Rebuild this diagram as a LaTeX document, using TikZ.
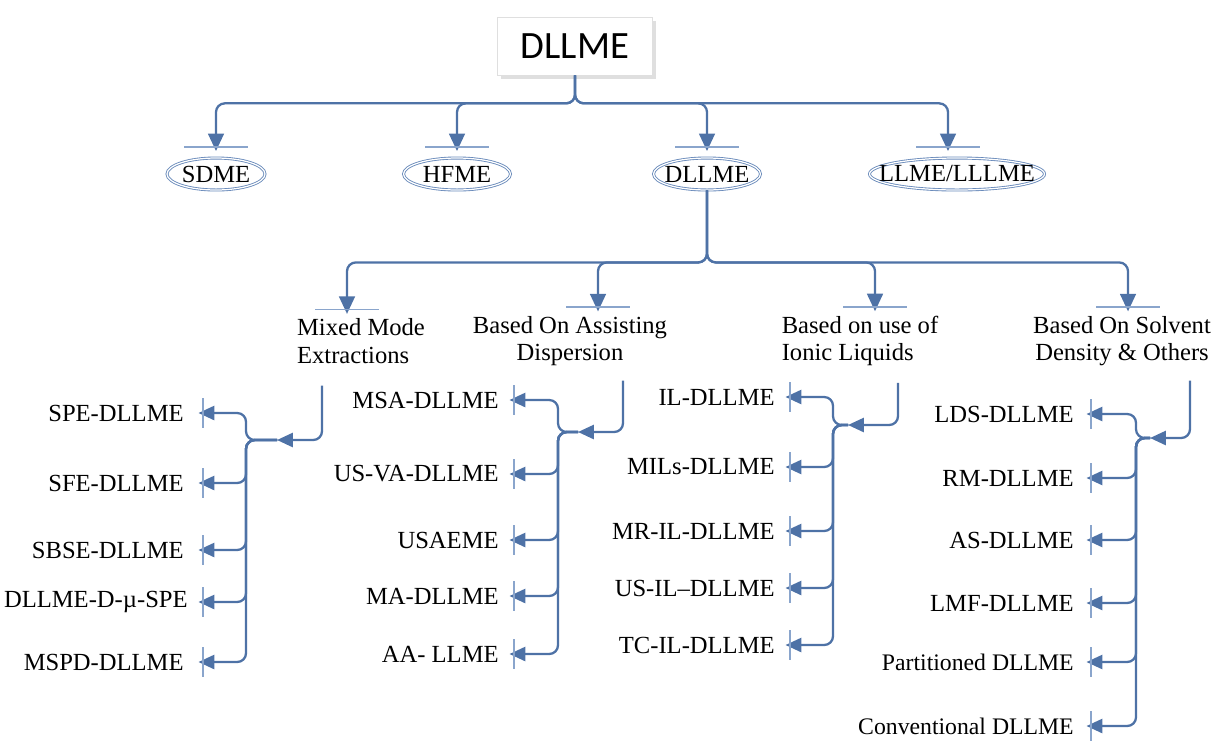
\documentclass[tikz,border=0pt]{standalone}
\usepackage{fontspec}
\setmainfont{Liberation Serif}
\newfontfamily\titlefont{Carlito}
\usetikzlibrary{positioning}
\usetikzlibrary{shapes,arrows.meta,shadows}
\definecolor{linkblue}{HTML}{4E72A6}
\definecolor{barblue}{HTML}{8AA5CC}
\definecolor{ovalblue}{HTML}{6A8BBB}

\begin{document}
\begin{tikzpicture}[x=0.02cm,y=-0.02cm,
					topbox/.style={rectangle,
									draw=gray!25,fill=white,
									minimum width=3.1cm,minimum height=1.16cm,
									font=\titlefont\fontsize{22}{24}\selectfont,
									drop shadow={shadow xshift=2pt,shadow yshift=-2pt,opacity=0.25}
									},
					oval/.style={ellipse,
									draw=ovalblue,line width=0.5pt,
									double=white,double distance=0.7pt,
									inner sep=0mm,minimum height=0.64cm
									},
					ovaltext/.style={font=\fontsize{14}{16}\selectfont},
					catnode/.style={inner sep=0mm,font=\fontsize{14}{15.5}\selectfont},
					leafnode/.style={anchor=east,inner sep=0mm,font=\fontsize{14}{16}\selectfont},
					link/.style={draw=linkblue,line width=1.3pt,rounded corners=5pt},
					downtip/.style={-{Triangle[length=10pt,width=9pt,sep=-3pt] Bar[width=36pt,line width=1pt,color=barblue]}},
					lefttip/.style={-{Triangle[length=9pt,width=8pt,sep=-3pt] Bar[width=17pt,line width=1pt,color=barblue]}},
					jointip/.style={-{Triangle[length=9pt,width=8pt]}}
                     ]
\useasboundingbox (0,0) rectangle (1222,741);

% top
\node[topbox] (title) at (575,46) {DLLME};
\node[oval,minimum width=1.96cm,label={[ovaltext]center:SDME}] (sdme) at (216,174) {};
\node[oval,minimum width=2.14cm,label={[ovaltext]center:HFME}] (hfme) at (457,174) {};
\node[oval,minimum width=2.14cm,label={[ovaltext]center:DLLME}] (dllme) at (707,174) {};
\node[oval,minimum width=3.5cm,label={[ovaltext]center:LLME/LLLME}] (llme) at (957,174) {};

\draw[link,downtip] (title.south) -- ++(0,28) -| ([yshift=0.2cm]sdme.north);
\draw[link,downtip] (title.south) -- ++(0,28) -| ([yshift=0.2cm]hfme.north);
\draw[link,downtip] (title.south) -- ++(0,28) -| ([yshift=0.2cm]dllme.north);
\draw[link,downtip] (title.south) -- ++(0,28) -| ([yshift=0.2cm,xshift=-0.18cm]llme.north);

% categories
\node[catnode,align=left] (mix) at (361,341) {Mixed Mode\\Extractions};
\node[catnode,align=center] (assist) at (570,341) {Based On Assisting\\Dispersion};
\node[catnode,align=left] (ionic) at (860,341) {Based on use of\\Ionic Liquids};
\node[catnode,align=center] (solvent) at (1122,341) {Based On Solvent\\Density \& Others};

\draw[link,downtip] (dllme.south) -- ++(0,72) -| ([xshift=-0.28cm,yshift=0.16cm]mix.north);
\draw[link,downtip] (dllme.south) -- ++(0,72) -| ([xshift=0.56cm,yshift=0.16cm]assist.north);
\draw[link,downtip] (dllme.south) -- ++(0,72) -| ([xshift=0.3cm,yshift=0.16cm]ionic.north);
\draw[link,downtip] (dllme.south) -- ++(0,72) -| ([xshift=0.12cm,yshift=0.16cm]solvent.north);

% junctions
\coordinate (a1) at (277,440);
\coordinate (t1) at (246,440);
\coordinate (a2) at (578,432);
\coordinate (t2) at (558,432);
\coordinate (a3) at (848,425);
\coordinate (t3) at (833,425);
\coordinate (a4) at (1150,438);
\coordinate (t4) at (1136,438);

\draw[link,jointip] ([xshift=-0.78cm,yshift=-0.44cm]mix.south) |- (a1);
\draw[link,jointip] ([xshift=1.06cm,yshift=-0.29cm]assist.south) |- (a2);
\draw[link,jointip] ([xshift=0.76cm,yshift=-0.33cm]ionic.south) |- (a3);
\draw[link,jointip] ([xshift=1.36cm,yshift=-0.29cm]solvent.south) |- (a4);

% mixed mode
\node[leafnode] (spe) at (184,413) {SPE-DLLME};
\node[leafnode] (sfe) at (184,483) {SFE-DLLME};
\node[leafnode] (sbse) at (184,550) {SBSE-DLLME};
\node[leafnode] (dmspe) at (188,602) {DLLME-D-µ-SPE};
\node[leafnode] (mspd) at (184,662) {MSPD-DLLME};
\draw[link,lefttip] (a1) -| (t1 |- spe) -- ([xshift=0.36cm]spe.east);
\draw[link,lefttip] (a1) -| (t1 |- sfe) -- ([xshift=0.36cm]sfe.east);
\draw[link,lefttip] (a1) -| (t1 |- sbse) -- ([xshift=0.36cm]sbse.east);
\draw[link,lefttip] (a1) -| (t1 |- dmspe) -- ([xshift=0.28cm]dmspe.east);
\draw[link,lefttip] (a1) -| (t1 |- mspd) -- ([xshift=0.36cm]mspd.east);

% assisting dispersion
\node[leafnode] (msa) at (499,400) {MSA-DLLME};
\node[leafnode] (usva) at (499,474) {US-VA-DLLME};
\node[leafnode] (usaeme) at (499,540) {USAEME};
\node[leafnode] (ma) at (499,596) {MA-DLLME};
\node[leafnode] (aa) at (499,654) {AA- LLME};
\draw[link,lefttip] (a2) -| (t2 |- msa) -- ([xshift=0.28cm]msa.east);
\draw[link,lefttip] (a2) -| (t2 |- usva) -- ([xshift=0.28cm]usva.east);
\draw[link,lefttip] (a2) -| (t2 |- usaeme) -- ([xshift=0.28cm]usaeme.east);
\draw[link,lefttip] (a2) -| (t2 |- ma) -- ([xshift=0.28cm]ma.east);
\draw[link,lefttip] (a2) -| (t2 |- aa) -- ([xshift=0.28cm]aa.east);

% ionic liquids
\node[leafnode] (il) at (775,397) {IL-DLLME};
\node[leafnode] (mils) at (775,467) {MILs-DLLME};
\node[leafnode] (mril) at (775,531) {MR-IL-DLLME};
\node[leafnode] (usil) at (775,588) {US-IL–DLLME};
\node[leafnode] (tcil) at (775,645) {TC-IL-DLLME};
\draw[link,lefttip] (a3) -| (t3 |- il) -- ([xshift=0.28cm]il.east);
\draw[link,lefttip] (a3) -| (t3 |- mils) -- ([xshift=0.28cm]mils.east);
\draw[link,lefttip] (a3) -| (t3 |- mril) -- ([xshift=0.28cm]mril.east);
\draw[link,lefttip] (a3) -| (t3 |- usil) -- ([xshift=0.28cm]usil.east);
\draw[link,lefttip] (a3) -| (t3 |- tcil) -- ([xshift=0.28cm]tcil.east);

% solvent density
\node[leafnode] (lds) at (1074,414) {LDS-DLLME};
\node[leafnode] (rm) at (1074,478) {RM-DLLME};
\node[leafnode] (as) at (1074,540) {AS-DLLME};
\node[leafnode] (lmf) at (1074,603) {LMF-DLLME};
\node[leafnode,font=\fontsize{13.5}{16}\selectfont] (part) at (1074,662) {Partitioned DLLME};
\node[leafnode,font=\fontsize{13.5}{16}\selectfont] (conv) at (1074,726) {Conventional DLLME};
\draw[link,lefttip] (a4) -| (t4 |- lds) -- ([xshift=0.32cm]lds.east);
\draw[link,lefttip] (a4) -| (t4 |- rm) -- ([xshift=0.32cm]rm.east);
\draw[link,lefttip] (a4) -| (t4 |- as) -- ([xshift=0.32cm]as.east);
\draw[link,lefttip] (a4) -| (t4 |- lmf) -- ([xshift=0.32cm]lmf.east);
\draw[link,lefttip] (a4) -| (t4 |- part) -- ([xshift=0.32cm]part.east);
\draw[link,lefttip] (a4) -| (t4 |- conv) -- ([xshift=0.32cm]conv.east);
\end{tikzpicture}
\end{document}
